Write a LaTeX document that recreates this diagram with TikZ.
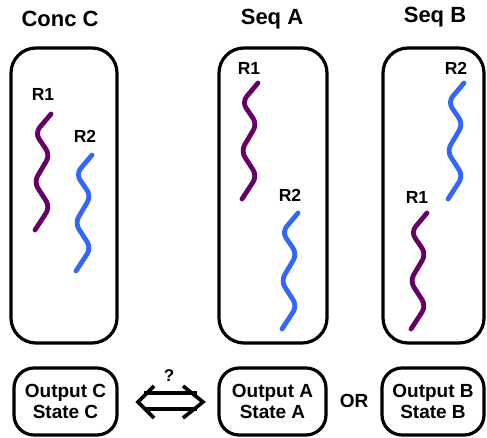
\documentclass[tikz,border=0pt]{standalone}
\usepackage{fontspec}
\setmainfont{Liberation Sans}
\definecolor{wpurple}{HTML}{660066}
\definecolor{wblue}{HTML}{3366FF}
\begin{document}
\begin{tikzpicture}[x=1pt,y=-1pt,
  title/.style={font=\fontsize{22}{24}\selectfont\bfseries, inner sep=0pt},
  rlabel/.style={font=\fontsize{17.5}{20}\selectfont\bfseries, inner sep=0pt},
  bigbox/.style={draw, line width=3.2pt, rounded corners=25pt, minimum height=295pt, inner sep=0pt},
  outbox/.style={draw, line width=3.2pt, rounded corners=20pt, minimum height=67pt, inner sep=0pt, align=center, font=\fontsize{19}{20.5}\selectfont\bfseries},
  wave/.pic={\draw[#1, line width=4.8pt, line cap=round, rounded corners=7pt]
     (0,0) -- (-16,19) -- (-1,41) -- (-17,68) -- (-1,93) -- (-16,116);}
]
\useasboundingbox (0,0) rectangle (487,438);

% titles
\node[title] (tC) at (60,19) {Conc C};
\node[title] (tA) at (272,19) {Seq A};
\node[title] (tB) at (435,17) {Seq B};

% big boxes
\node[bigbox, minimum width=106pt] (bC) at (64,195.5) {};
\node[bigbox, minimum width=108pt] (bA) at (273,195.5) {};
\node[bigbox, minimum width=101pt] (bB) at (433.5,195.5) {};

% labels
\node[rlabel] (lC1) at (43,94) {R1};
\node[rlabel] (lC2) at (85,136) {R2};
\node[rlabel] (lA1) at (249,68) {R1};
\node[rlabel] (lA2) at (290,195) {R2};
\node[rlabel] (lB2) at (456,68) {R2};
\node[rlabel] (lB1) at (417,197) {R1};

% waves
\pic at (51,114) {wave=wpurple};
\pic at (92,155) {wave=wblue};
\pic at (258,83) {wave=wpurple};
\pic at (298,213) {wave=wblue};
\pic at (464,83) {wave=wblue};
\pic at (427,213) {wave=wpurple};

% output boxes
\node[outbox, minimum width=103pt] (oC) at (65.5,401.5) {Output C\\State C};
\node[outbox, minimum width=107pt] (oA) at (272.5,401.5) {Output A\\State A};
\node[outbox, minimum width=102pt] (oB) at (433,401.5) {Output B\\State B};

\node[font=\fontsize{19}{20}\selectfont\bfseries, inner sep=0pt] (or) at (354,401) {OR};

% double arrow
\coordinate (aL) at (138,402);
\coordinate (aR) at (203,402);
\draw[line width=3.6pt, line join=miter] ([shift={(16,-16)}]aL) -- (aL) -- ([shift={(16,16)}]aL);
\draw[line width=3.6pt, line join=miter] ([shift={(-20,-16)}]aR) -- (aR) -- ([shift={(-20,16)}]aR);
\draw[line width=3.6pt] ([shift={(6,-9)}]aL) -- ([shift={(-6,-9)}]aR);
\draw[line width=3.6pt] ([shift={(6,7)}]aL) -- ([shift={(-6,7)}]aR);
\node[font=\fontsize{17}{18}\selectfont\bfseries, inner sep=0pt] (q) at (169,376) {?};
\end{tikzpicture}
\end{document}
